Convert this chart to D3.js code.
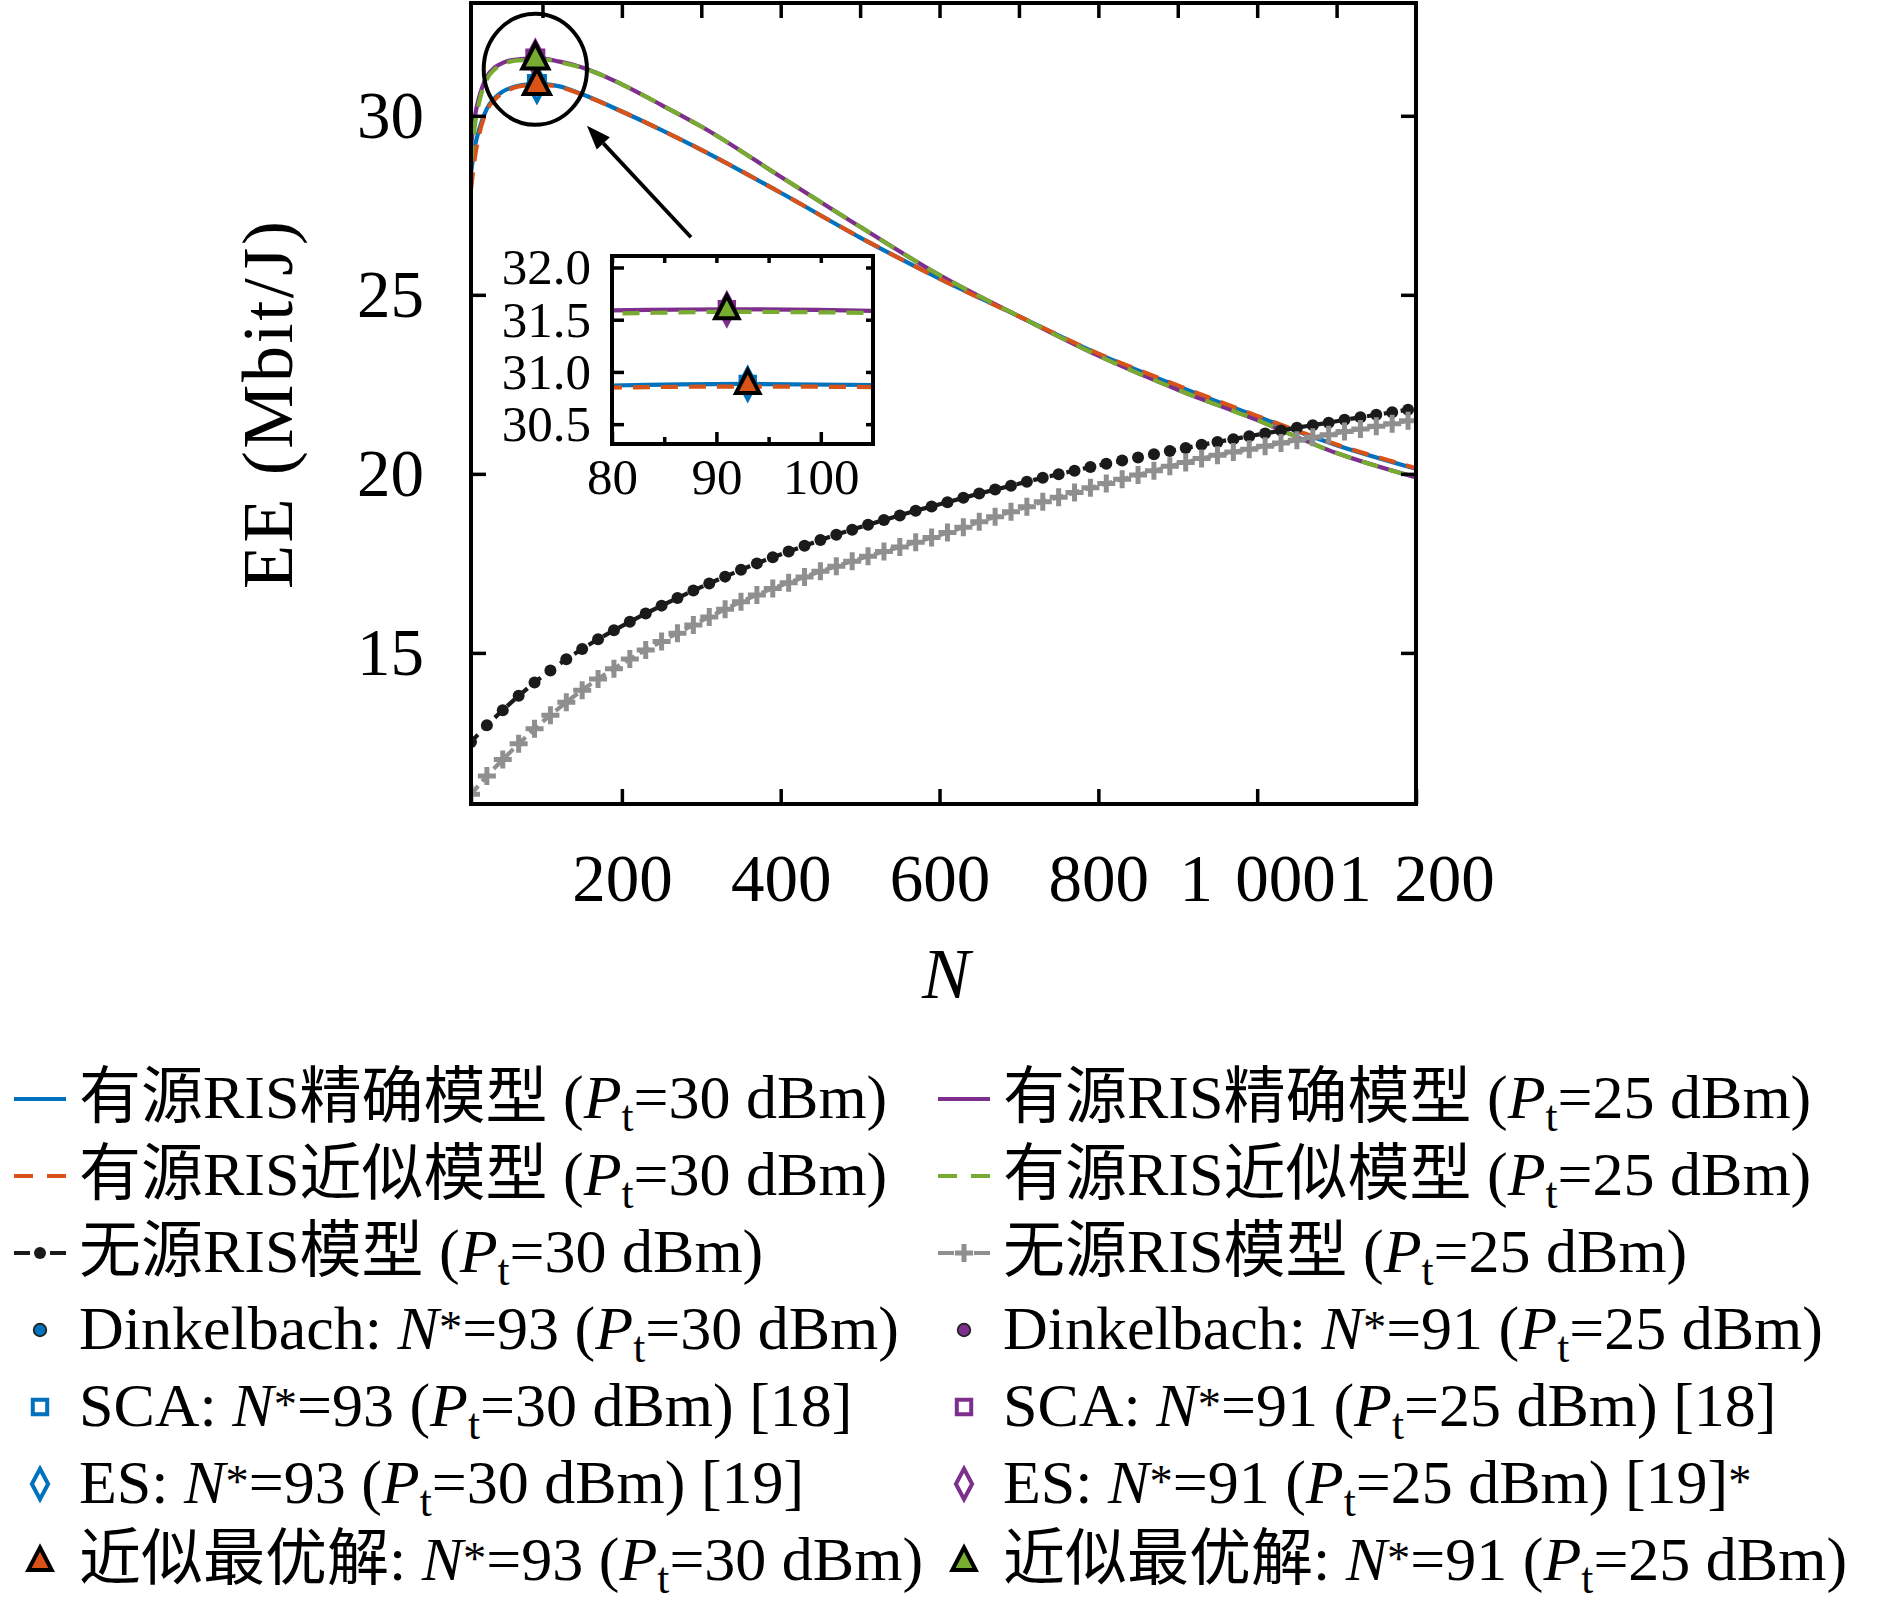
<!DOCTYPE html>
<html>
<head>
<meta charset="utf-8">
<script src="https://cdn.jsdelivr.net/npm/d3@7"></script>
<style>
  body { margin: 0; background: #fff; }
  svg text { font-family: "Liberation Serif", "Noto Sans CJK SC", serif; fill: #000; }
</style>
</head>
<body>
<svg id="chart" width="1890" height="1608"></svg>
<script>
// ---- data ----
const nExact30   = [10, 15, 20, 30, 40, 50, 60, 70, 80, 93, 105, 120, 150, 200, 250, 300, 400, 500, 600, 700, 800, 900, 1000, 1100, 1200];
const eeExact30  = [28.40, 29.15, 29.60, 30.20, 30.50, 30.68, 30.78, 30.84, 30.87, 30.885, 30.875, 30.83, 30.60, 30.12, 29.60, 29.05, 27.85, 26.60, 25.45, 24.40, 23.35, 22.45, 21.60, 20.80, 20.14];
const eeApprox30 = [27.95, 28.85, 29.45, 30.15, 30.45, 30.64, 30.75, 30.82, 30.85, 30.86, 30.855, 30.81, 30.59, 30.12, 29.60, 29.05, 27.85, 26.60, 25.45, 24.40, 23.36, 22.47, 21.62, 20.82, 20.16];
const nExact25   = [10, 15, 20, 30, 40, 50, 60, 70, 80, 91, 105, 120, 150, 200, 250, 300, 400, 500, 600, 700, 800, 900, 1000, 1100, 1200];
const eeExact25  = [29.15, 30.00, 30.50, 31.10, 31.35, 31.48, 31.55, 31.58, 31.59, 31.60, 31.585, 31.52, 31.35, 30.88, 30.30, 29.70, 28.30, 26.90, 25.55, 24.40, 23.30, 22.35, 21.50, 20.58, 19.90];
const eeApprox25 = [28.70, 29.75, 30.35, 31.02, 31.30, 31.44, 31.52, 31.55, 31.56, 31.575, 31.565, 31.50, 31.34, 30.88, 30.30, 29.70, 28.30, 26.90, 25.55, 24.40, 23.30, 22.35, 21.50, 20.58, 19.90];

const nPassive = [10, 30, 50, 70, 90, 110, 130, 150, 170, 190, 210, 230, 250, 270, 290, 310, 330, 350, 370, 390,
  410, 430, 450, 470, 490, 510, 530, 550, 570, 590, 610, 630, 650, 670, 690, 710, 730, 750, 770, 790,
  810, 830, 850, 870, 890, 910, 930, 950, 970, 990, 1010, 1030, 1050, 1070, 1090, 1110, 1130, 1150, 1170, 1190];
const eePassive30 = [12.51, 12.98, 13.40, 13.80, 14.17, 14.51, 14.82, 15.11, 15.38, 15.63, 15.87, 16.10, 16.32, 16.53, 16.74, 16.94, 17.13, 17.32, 17.50, 17.67,
  17.83, 17.99, 18.15, 18.30, 18.44, 18.58, 18.71, 18.84, 18.97, 19.09, 19.21, 19.33, 19.45, 19.56, 19.67, 19.78, 19.89, 19.99, 20.09, 20.19,
  20.28, 20.37, 20.46, 20.55, 20.64, 20.72, 20.81, 20.89, 20.97, 21.05, 21.13, 21.21, 21.29, 21.36, 21.43, 21.51, 21.58, 21.65, 21.72, 21.79];
const eePassive25 = [11.05, 11.56, 12.02, 12.46, 12.88, 13.26, 13.62, 13.96, 14.27, 14.56, 14.83, 15.08, 15.32, 15.55, 15.78, 16.00, 16.22, 16.43, 16.62, 16.80,
  16.96, 17.12, 17.28, 17.42, 17.56, 17.70, 17.83, 17.96, 18.09, 18.22, 18.36, 18.51, 18.66, 18.80, 18.94, 19.08, 19.22, 19.35, 19.48, 19.61,
  19.73, 19.85, 19.97, 20.09, 20.21, 20.32, 20.43, 20.52, 20.61, 20.69, 20.77, 20.86, 20.94, 21.02, 21.09, 21.18, 21.25, 21.33, 21.40, 21.48];

// optimum points: [Pt=30 dBm, Pt=25 dBm]
const optN  = [93, 91];
const optEE = [30.885, 31.60];

// ticks
const xTicksBottom = [200, 400, 600, 800, 1000, 1200];
const xTickLabels  = ["200", "400", "600", "800", "1\u2004000", "1\u2004200"];
const xTicksTop    = [100, 200, 300, 400, 500, 600, 700, 800, 900, 1000, 1100];
const yTicks       = [15, 20, 25, 30];
const insetXTicks  = [80, 90, 100];
const insetXMinor  = [85, 95];
const insetYTicks  = [30.5, 31.0, 31.5, 32.0];

const legendLabels = [
  "有源RIS精确模型 ({P}_t=30 dBm)", "有源RIS精确模型 ({P}_t=25 dBm)",
  "有源RIS近似模型 ({P}_t=30 dBm)", "有源RIS近似模型 ({P}_t=25 dBm)",
  "无源RIS模型 ({P}_t=30 dBm)", "无源RIS模型 ({P}_t=25 dBm)",
  "Dinkelbach: {N}^*=93 ({P}_t=30 dBm)", "Dinkelbach: {N}^*=91 ({P}_t=25 dBm)",
  "SCA: {N}^*=93 ({P}_t=30 dBm) [18]", "SCA: {N}^*=91 ({P}_t=25 dBm) [18]",
  "ES: {N}^*=93 ({P}_t=30 dBm) [19]", "ES: {N}^*=91 ({P}_t=25 dBm) [19]^*",
  "近似最优解: {N}^*=93 ({P}_t=30 dBm)", "近似最优解: {N}^*=91 ({P}_t=25 dBm)"
];
const legendKeys = ["exact30", "exact25", "approx30", "approx25", "passive30", "passive25",
  "dink30", "dink25", "sca30", "sca25", "es30", "es25", "tri30", "tri25"];

// ---- styles ----
const BLUE = "#0072BD", ORANGE = "#D95319", PURPLE = "#7E2F8E", GREEN = "#77AC30";
const lineStyle = {
  exact30:   { stroke: BLUE,    dash: null,    w: 4.2 },
  exact25:   { stroke: PURPLE,  dash: null,    w: 4.2 },
  approx30:  { stroke: ORANGE,  dash: "17,11", w: 4.2 },
  approx25:  { stroke: GREEN,   dash: "17,11", w: 4.2 },
  passive30: { stroke: "#1a1a1a", dash: "10,7", w: 4.2, marker: "dot" },
  passive25: { stroke: "#8f8f8f", dash: "11,6", w: 4.2, marker: "plus" }
};
const markerStyle = {
  dink30: { type: "circle",  color: BLUE },   dink25: { type: "circle",  color: PURPLE },
  sca30:  { type: "square",  color: BLUE },   sca25:  { type: "square",  color: PURPLE },
  es30:   { type: "diamond", color: BLUE },   es25:   { type: "diamond", color: PURPLE },
  tri30:  { type: "triangle", color: ORANGE }, tri25: { type: "triangle", color: GREEN }
};

const series = {
  exact30:   { n: nExact30, v: eeExact30 },
  exact25:   { n: nExact25, v: eeExact25 },
  approx30:  { n: nExact30, v: eeApprox30 },
  approx25:  { n: nExact25, v: eeApprox25 },
  passive30: { n: nPassive, v: eePassive30 },
  passive25: { n: nPassive, v: eePassive25 }
};
const drawOrder = ["exact30", "exact25", "approx30", "approx25", "passive30", "passive25"];

const svg = d3.select("#chart");
const FONT = '"Liberation Serif", "Noto Sans CJK SC", serif';

// main plot scales
const x = d3.scaleLinear().domain([10, 1200]).range([471, 1416]);
const y = d3.scaleLinear().domain([10.78, 33.15]).range([804, 3]);

const defs = svg.append("defs");
defs.append("clipPath").attr("id", "clipMain").append("rect")
  .attr("x", x.range()[0]).attr("y", y.range()[1])
  .attr("width", x.range()[1] - x.range()[0]).attr("height", y.range()[0] - y.range()[1]);

function markerPath(type, s) {
  if (type === "square")   return `M${-8*s},${-8*s}H${8*s}V${8*s}H${-8*s}Z`;
  if (type === "diamond")  return `M0,${-17*s}L${9*s},0L0,${17*s}L${-9*s},0Z`;
  if (type === "triangle") return `M0,${-15*s}L${13*s},${10*s}L${-13*s},${10*s}Z`;
  return null;
}

function drawMarker(g, key, cx, cy, s) {
  const st = markerStyle[key];
  if (st.type === "circle") {
    g.append("circle").attr("cx", cx).attr("cy", cy).attr("r", 7 * s)
      .attr("fill", st.color).attr("stroke", "#222").attr("stroke-width", 1.8);
    return;
  }
  const p = g.append("path").attr("d", markerPath(st.type, s))
    .attr("transform", `translate(${cx},${cy})`).attr("stroke-linejoin", "miter");
  if (st.type === "triangle") p.attr("fill", st.color).attr("stroke", "#000").attr("stroke-width", 4);
  else p.attr("fill", "none").attr("stroke", st.color).attr("stroke-width", 4);
}

function drawSeries(g, xs, ys, keys, withMarkers) {
  keys.forEach(k => {
    const st = lineStyle[k], d = series[k];
    const pts = d.n.map((n, i) => [n, d.v[i]]);
    const line = d3.line().x(p => xs(p[0])).y(p => ys(p[1])).curve(d3.curveMonotoneX);
    g.append("path").datum(pts).attr("d", line)
      .attr("fill", "none").attr("stroke", st.stroke).attr("stroke-width", st.w)
      .attr("stroke-dasharray", st.dash).attr("stroke-linejoin", "round");
    if (withMarkers && st.marker === "dot") {
      g.append("g").selectAll("circle").data(pts).enter().append("circle")
        .attr("cx", p => xs(p[0])).attr("cy", p => ys(p[1])).attr("r", 6)
        .attr("fill", st.stroke);
    }
    if (withMarkers && st.marker === "plus") {
      g.append("g").selectAll("path").data(pts).enter().append("path")
        .attr("d", "M-9,0H9M0,-9V9")
        .attr("transform", p => `translate(${xs(p[0])},${ys(p[1])})`)
        .attr("stroke", st.stroke).attr("stroke-width", 5);
    }
  });
}

function drawOptima(g, xs, ys, s) {
  ["dink", "sca", "es", "tri"].forEach(m => {
    ["30", "25"].forEach((pt, i) => drawMarker(g, m + pt, xs(optN[i]), ys(optEE[i]), s));
  });
}

// ---- main plot ----
const plot = svg.append("g").attr("clip-path", "url(#clipMain)");
drawSeries(plot, x, y, drawOrder, true);
drawOptima(plot, x, y, 1);

// zoom ellipse + arrow (annotation, data coordinates)
const ell = { n: 91, ee: 31.30, rn: 65, ree: 1.55 };
svg.append("ellipse")
  .attr("cx", x(ell.n)).attr("cy", y(ell.ee))
  .attr("rx", x(ell.n + ell.rn) - x(ell.n)).attr("ry", y(ell.ee) - y(ell.ee + ell.ree))
  .attr("fill", "none").attr("stroke", "#000").attr("stroke-width", 4);

const arrowFrom = [287, 26.61], arrowTo = [156, 29.72];
const ax0 = x(arrowFrom[0]), ay0 = y(arrowFrom[1]), ax1 = x(arrowTo[0]), ay1 = y(arrowTo[1]);
const ang = Math.atan2(ay1 - ay0, ax1 - ax0), headL = 24, headW = 9;
const bx = ax1 - headL * Math.cos(ang), by = ay1 - headL * Math.sin(ang);
svg.append("line").attr("x1", ax0).attr("y1", ay0).attr("x2", bx).attr("y2", by)
  .attr("stroke", "#000").attr("stroke-width", 3.8);
svg.append("path")
  .attr("d", `M${ax1},${ay1}L${bx + headW * Math.sin(ang)},${by - headW * Math.cos(ang)}L${bx - headW * Math.sin(ang)},${by + headW * Math.cos(ang)}Z`)
  .attr("fill", "#000");

// axes (inward ticks, box)
function styleAxis(g, size) {
  g.select(".domain").remove();
  g.attr("font-family", FONT).attr("font-size", size);
  g.selectAll(".tick line").attr("stroke", "#000").attr("stroke-width", 3.5);
  g.selectAll(".tick text").attr("fill", "#000");
}
styleAxis(svg.append("g").attr("transform", `translate(0,${y.range()[0]})`)
  .call(d3.axisBottom(x).tickValues(xTicksBottom).tickFormat((d, i) => xTickLabels[i])
    .tickSize(-15).tickPadding(49)), 67);
styleAxis(svg.append("g").attr("transform", `translate(0,${y.range()[1]})`)
  .call(d3.axisTop(x).tickValues(xTicksTop).tickFormat("").tickSize(-15)), 67);
styleAxis(svg.append("g").attr("transform", `translate(${x.range()[0]},0)`)
  .call(d3.axisLeft(y).tickValues(yTicks).tickSize(-15).tickPadding(47)), 67);
styleAxis(svg.append("g").attr("transform", `translate(${x.range()[1]},0)`)
  .call(d3.axisRight(y).tickValues(yTicks).tickFormat("").tickSize(-15)), 67);
svg.append("rect").attr("x", x.range()[0]).attr("y", y.range()[1])
  .attr("width", x.range()[1] - x.range()[0]).attr("height", y.range()[0] - y.range()[1])
  .attr("fill", "none").attr("stroke", "#000").attr("stroke-width", 4);

// axis titles
svg.append("text").attr("transform", "translate(292,405) rotate(-90)")
  .attr("text-anchor", "middle").attr("font-size", 72)
  .attr("textLength", 368).attr("lengthAdjust", "spacing")
  .text("EE (Mbit/J)");
svg.append("text").attr("x", 946).attr("y", 998).attr("text-anchor", "middle")
  .attr("font-size", 72).attr("font-style", "italic").text("N");

// ---- inset ----
const ix = d3.scaleLinear().domain([80, 105]).range([612, 873]);
const iy = d3.scaleLinear().domain([30.31, 32.11]).range([444, 256]);
defs.append("clipPath").attr("id", "clipInset").append("rect")
  .attr("x", ix.range()[0]).attr("y", iy.range()[1])
  .attr("width", ix.range()[1] - ix.range()[0]).attr("height", iy.range()[0] - iy.range()[1]);
svg.append("rect").attr("x", ix.range()[0]).attr("y", iy.range()[1])
  .attr("width", ix.range()[1] - ix.range()[0]).attr("height", iy.range()[0] - iy.range()[1])
  .attr("fill", "#fff");
const inset = svg.append("g").attr("clip-path", "url(#clipInset)");
drawSeries(inset, ix, iy, ["exact30", "exact25", "approx30", "approx25"], false);
drawOptima(inset, ix, iy, 0.9);

styleAxis(svg.append("g").attr("transform", `translate(0,${iy.range()[0]})`)
  .call(d3.axisBottom(ix).tickValues(insetXTicks).tickSize(-12).tickPadding(14)), 51);
styleAxis(svg.append("g").attr("transform", `translate(0,${iy.range()[0]})`)
  .call(d3.axisBottom(ix).tickValues(insetXMinor).tickFormat("").tickSize(-7)), 51);
styleAxis(svg.append("g").attr("transform", `translate(0,${iy.range()[1]})`)
  .call(d3.axisTop(ix).tickValues(insetXTicks.concat(insetXMinor)).tickFormat("").tickSize(-7)), 51);
styleAxis(svg.append("g").attr("transform", `translate(${ix.range()[0]},0)`)
  .call(d3.axisLeft(iy).tickValues(insetYTicks).tickFormat(d3.format(".1f")).tickSize(-12).tickPadding(21)), 51);
styleAxis(svg.append("g").attr("transform", `translate(${ix.range()[1]},0)`)
  .call(d3.axisRight(iy).tickValues(insetYTicks).tickFormat("").tickSize(-7)), 51);
svg.append("rect").attr("x", ix.range()[0]).attr("y", iy.range()[1])
  .attr("width", ix.range()[1] - ix.range()[0]).attr("height", iy.range()[0] - iy.range()[1])
  .attr("fill", "none").attr("stroke", "#000").attr("stroke-width", 4);

// ---- legend ----
// {X} italic, _c subscript, ^c superscript
function rich(textSel, str) {
  const re = /\{([^}]*)\}|_(.)|\^(.)|([^{_^]+)/g;
  let m, off = 0;
  const shift = (t, target) => { const d = target - off; off = target; if (d) t.attr("dy", d); };
  while ((m = re.exec(str)) !== null) {
    const t = textSel.append("tspan");
    if (m[1] !== undefined) { shift(t, 0); t.attr("font-style", "italic").text(m[1]); }
    else if (m[2] !== undefined) { shift(t, 13); t.attr("font-size", "0.7em").text(m[2]); }
    else if (m[3] !== undefined) { shift(t, -6); t.attr("font-size", "0.75em").text(m[3]); }
    else { shift(t, 0); t.text(m[4]); }
  }
}

const legend = svg.append("g").attr("font-size", 62);
legendLabels.forEach((lab, i) => {
  const col = i % 2, row = Math.floor(i / 2);
  const base = 1118 + row * 77, cy = base - 19;
  const x0 = [14, 938][col], tx = [79, 1003][col];
  const key = legendKeys[i];
  if (lineStyle[key]) {
    const st = lineStyle[key];
    const dash = st.marker ? "16,20" : (st.dash ? "19,14" : null);
    legend.append("line").attr("x1", x0).attr("x2", x0 + 52).attr("y1", cy).attr("y2", cy)
      .attr("stroke", st.stroke).attr("stroke-width", st.w).attr("stroke-dasharray", dash);
    if (st.marker === "dot") legend.append("circle").attr("cx", x0 + 26).attr("cy", cy).attr("r", 6).attr("fill", st.stroke);
    if (st.marker === "plus") legend.append("path").attr("d", "M-9,0H9M0,-9V9")
      .attr("transform", `translate(${x0 + 26},${cy})`).attr("stroke", st.stroke).attr("stroke-width", 5);
  } else {
    drawMarker(legend, key, x0 + 26, cy, 0.9);
  }
  rich(legend.append("text").attr("x", tx).attr("y", base), lab);
});
</script>
</body>
</html>
